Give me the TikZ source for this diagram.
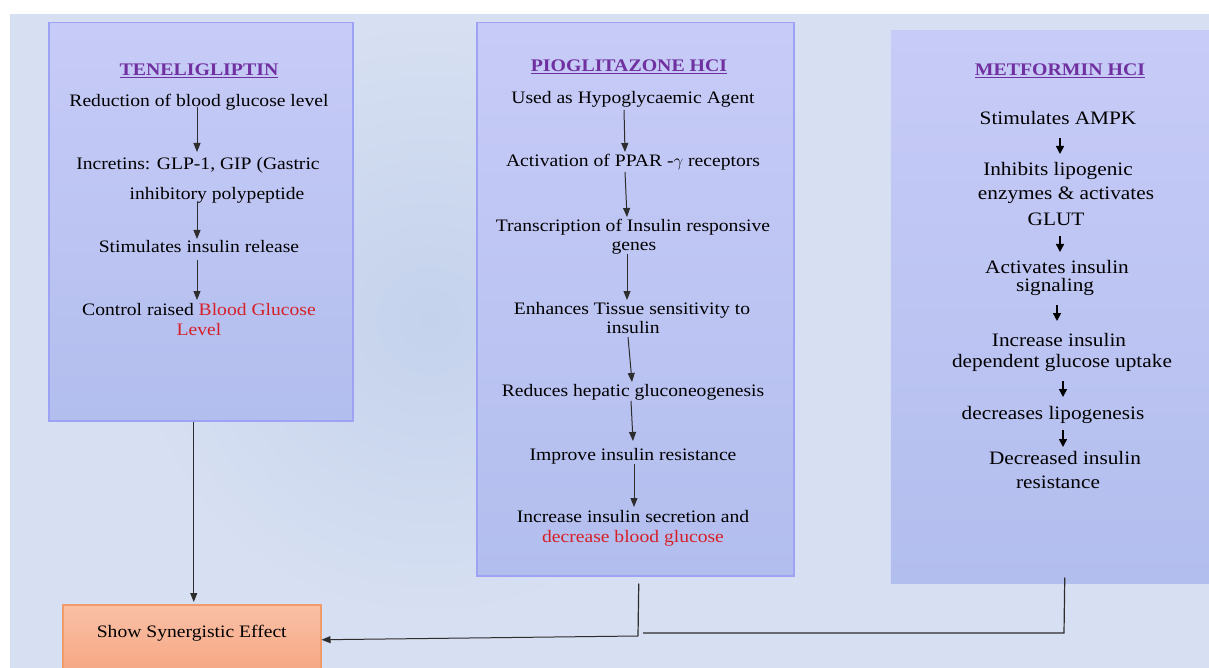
\documentclass[tikz,border=0pt]{standalone}
\usepackage{fontspec}
\setmainfont{Liberation Serif}[FakeStretch=1.12]
\usetikzlibrary{arrows.meta}
\definecolor{bgblue}{RGB}{215,224,242}
\definecolor{bgdark}{RGB}{196,210,236}
\definecolor{boxtop}{RGB}{199,203,247}
\definecolor{boxbot}{RGB}{178,190,238}
\definecolor{boxborder}{RGB}{158,162,244}
\definecolor{titlepurple}{RGB}{112,48,160}
\definecolor{redtxt}{RGB}{214,32,40}
\definecolor{synTop}{RGB}{249,192,166}
\definecolor{synBot}{RGB}{246,166,130}
\definecolor{synBorder}{RGB}{240,155,105}
\definecolor{lineclr}{RGB}{45,45,45}
\begin{document}
\begin{tikzpicture}[x=1pt,y=-1pt,
  panel/.style={draw=boxborder, line width=1.5pt, top color=boxtop, bottom color=boxbot, anchor=north west, inner sep=0pt},
  txt/.style={anchor=base, inner sep=0pt, font=\fontsize{17.5}{20}\selectfont, text=black},
  mtxt/.style={anchor=base, inner sep=0pt, font=\fontsize{19}{21}\selectfont, text=black},
  ttl/.style={anchor=base, inner sep=0pt, font=\fontsize{17.7}{20}\selectfont\bfseries, text=titlepurple},
  arr/.style={draw=lineclr, line width=1pt, -{Triangle[length=9pt,width=7pt]}},
  marr/.style={draw=black, line width=1.5pt, -{Triangle[length=8pt,width=8pt]}},
  conn/.style={draw=lineclr, line width=1.2pt}
]
\useasboundingbox (0,0) rectangle (1209,668);
\fill[bgblue] (10,14) rectangle (1209,668);
\shade[inner color=bgdark, outer color=bgblue] (430,320) circle (300);

% panels
\node[panel, minimum width=304pt, minimum height=398pt] (tene) at (48,22) {};
\node[panel, minimum width=317pt, minimum height=553pt] (pio) at (476,22) {};
\node[panel, draw=none, minimum width=322pt, minimum height=553pt] (met) at (890,30) {};
\node[draw=synBorder, line width=1.5pt, top color=synTop, bottom color=synBot,
      anchor=north west, inner sep=0pt, minimum width=258pt, minimum height=70pt,
      text height=12pt, text depth=16pt,
      font=\fontsize{17.5}{20}\selectfont] (syn) at (62,604) {Show Synergistic Effect};

% TENELIGLIPTIN
\node[ttl] (tt) at (199,76) {\underline{TENELIGLIPTIN}};
\node[txt] (t1) at (199,107) {Reduction of blood glucose level};
\node[txt] (t2a) at (198,170) {Incretins: GLP-1, GIP (Gastric};
\node[txt] (t2b) at (217,200) {inhibitory polypeptide};
\node[txt] (t3) at (199,252) {Stimulates insulin release};
\node[txt] (t4a) at (199,315) {Control raised \textcolor{redtxt}{Blood Glucose}};
\node[txt, text=redtxt] (t4b) at (199,335) {Level};
\draw[arr] ([xshift=-2pt,yshift=0pt]t1.base) -- ([xshift=-1pt,yshift=18pt]t2a.base);
\draw[arr] ([xshift=-20pt,yshift=-2pt]t2b.base) -- ([xshift=-2pt,yshift=13pt]t3.base);
\draw[arr] ([xshift=-2pt,yshift=-8pt]t3.base) -- ([xshift=-2pt,yshift=15pt]t4a.base);

% PIOGLITAZONE
\node[ttl] (pt) at (629,72) {\underline{PIOGLITAZONE HCI}};
\node[txt] (p1) at (633,104) {Used as Hypoglycaemic Agent};
\node[txt] (p2) at (633,167) {Activation of PPAR -$\gamma$ receptors};
\node[txt] (p3a) at (633,232) {Transcription of Insulin responsive};
\node[txt] (p3b) at (634,251) {genes};
\node[txt] (p4a) at (632,314) {Enhances Tissue sensitivity to};
\node[txt] (p4b) at (633,333) {insulin};
\node[txt] (p5) at (633,396) {Reduces hepatic gluconeogenesis};
\node[txt] (p6) at (633,460) {Improve insulin resistance};
\node[txt] (p7a) at (633,522) {Increase insulin secretion and};
\node[txt, text=redtxt] (p7b) at (633,542) {decrease blood glucose};
\draw[arr] ([xshift=-9pt,yshift=-6pt]p1.base) -- ([xshift=-8pt,yshift=15pt]p2.base);
\draw[arr] ([xshift=-8pt,yshift=-5pt]p2.base) -- ([xshift=-6pt,yshift=15pt]p3a.base);
\draw[arr] ([xshift=-7pt,yshift=-3pt]p3b.base) -- ([xshift=-5pt,yshift=14pt]p4a.base);
\draw[arr] ([xshift=-5pt,yshift=-4pt]p4b.base) -- ([xshift=-1pt,yshift=14pt]p5.base);
\draw[arr] ([xshift=-2pt,yshift=-5pt]p5.base) -- ([xshift=0pt,yshift=19pt]p6.base);
\draw[arr] ([xshift=1pt,yshift=-4pt]p6.base) -- ([xshift=1pt,yshift=15pt]p7a.base);

% METFORMIN
\node[ttl] (mt) at (1060,76) {\underline{METFORMIN HCI}};
\node[mtxt] (m1) at (1058,125) {Stimulates AMPK};
\node[mtxt] (m2a) at (1058,176) {Inhibits lipogenic};
\node[mtxt] (m2b) at (1066,200) {enzymes \& activates};
\node[mtxt] (m2c) at (1056,226) {GLUT};
\node[mtxt] (m3a) at (1057,273) {Activates insulin};
\node[mtxt] (m3b) at (1055,291) {signaling};
\node[mtxt] (m4a) at (1059,346) {Increase insulin};
\node[mtxt] (m4b) at (1062,367) {dependent glucose uptake};
\node[mtxt] (m5) at (1053,419) {decreases lipogenesis};
\node[mtxt] (m6a) at (1065,464) {Decreased insulin};
\node[mtxt] (m6b) at (1058,488) {resistance};
\draw[marr] ([xshift=2pt,yshift=-13pt]m1.base) -- ([xshift=2pt,yshift=22pt]m2a.base);
\draw[marr] ([xshift=4pt,yshift=-10pt]m2c.base) -- ([xshift=3pt,yshift=21pt]m3a.base);
\draw[marr] ([xshift=2pt,yshift=-14pt]m3b.base) -- ([xshift=-2pt,yshift=25pt]m4a.base);
\draw[marr] ([xshift=1pt,yshift=-14pt]m4b.base) -- ([xshift=10pt,yshift=22pt]m5.base);
\draw[marr] ([xshift=10pt,yshift=-11pt]m5.base) -- ([xshift=-2pt,yshift=17pt]m6a.base);

% connectors to synergy box
\draw[arr] ([xshift=-7pt]tene.south) -- ([xshift=2pt,yshift=2pt]syn.north);
\coordinate (pj) at (638,636);
\draw[conn] ([xshift=3.5pt,yshift=-7pt]pio.south) -- (pj);
\draw[arr] (pj) -- (syn.east);
\coordinate (mj) at (1064,633);
\coordinate (mk) at (643,633);
\draw[conn] ([xshift=13pt,yshift=7pt]met.south) -- (mj) -- (mk);
\end{tikzpicture}
\end{document}
